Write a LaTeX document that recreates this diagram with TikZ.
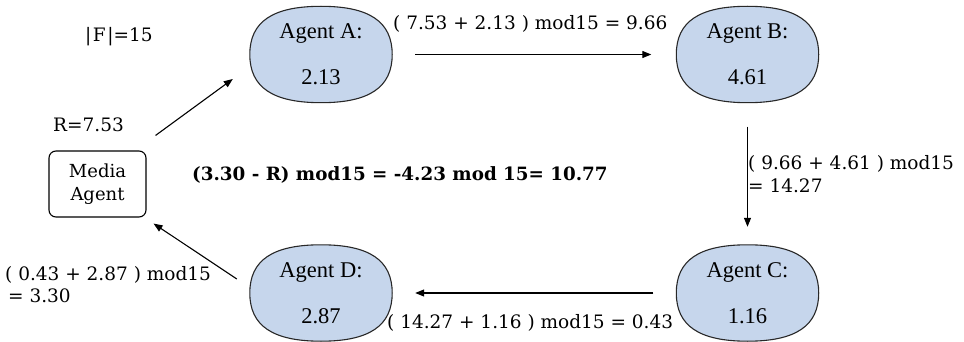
\documentclass[tikz,border=0pt]{standalone}
\usepackage{fontspec}
\setmainfont{DejaVu Serif}
\newfontfamily\nodefont{Liberation Serif}
\usetikzlibrary{arrows.meta,calc,backgrounds}
\definecolor{agentfill}{RGB}{198,214,236}
\definecolor{edgegray}{RGB}{40,40,40}
\tikzset{
  agent/.style={minimum width=142pt, minimum height=96pt, inner sep=0pt, align=center,
    font=\nodefont\fontsize{22.5}{46}\selectfont},
  agentline/.style={draw=edgegray, line width=1.1pt, fill=agentfill},
  media/.style={draw=black, line width=1.1pt, rounded corners=7pt,
    minimum width=97pt, minimum height=66pt, inner sep=0pt, align=center,
    font=\fontsize{18}{23}\selectfont},
  lbl/.style={inner sep=0pt, anchor=base west, align=left, font=\fontsize{18.5}{22}\selectfont},
  arr/.style={-{Triangle[length=9pt,width=7pt]}, line width=1.1pt, black},
}
\newcommand\agentoutline[1]{%
  \draw[agentline] (#1.north)
    .. controls ($(#1.north)!0.68!(#1.north east)$) and ($(#1.east)!0.68!(#1.north east)$) .. (#1.east)
    .. controls ($(#1.east)!0.68!(#1.south east)$) and ($(#1.south)!0.68!(#1.south east)$) .. (#1.south)
    .. controls ($(#1.south)!0.68!(#1.south west)$) and ($(#1.west)!0.68!(#1.south west)$) .. (#1.west)
    .. controls ($(#1.west)!0.68!(#1.north west)$) and ($(#1.north)!0.68!(#1.north west)$) .. (#1.north)
    -- cycle;}
\begin{document}
\begin{tikzpicture}[x=1pt,y=-1pt]
\useasboundingbox (0,0) rectangle (964,342);
\node[agent] (A) at (321,54.5) {Agent A:\\2.13};
\node[agent] (B) at (747.5,54.5) {Agent B:\\4.61};
\node[agent] (C) at (747.5,293) {Agent C:\\1.16};
\node[agent] (D) at (321,293) {Agent D:\\2.87};
\begin{scope}[on background layer]
\agentoutline{A}
\agentoutline{B}
\agentoutline{C}
\agentoutline{D}
\end{scope}
\node[media] (M) at (97.5,184) {Media\\Agent};

\node[lbl] (F) at (85,42) {|\kern1.5pt F\kern1.5pt|=15};
\node[lbl] (R) at (53,132) {R=7.53};
\node[lbl] (lab) at (393,30) {( 7.53 + 2.13 ) mod15 = 9.66};
\node[lbl] (lbc) at (748,192) {( 9.66 + 4.61 ) mod15\\= 14.27};
\node[lbl] (lcd) at (387,328) {( 14.27 + 1.16 ) mod15 = 0.43};
\node[lbl] (ldm) at (5,302) {( 0.43 + 2.87 ) mod15\\\hspace*{3pt}= 3.30};
\node[lbl, font=\bfseries\fontsize{18.3}{22}\selectfont] (res) at (192,180) {(3.30 - R) mod15 = -4.23 mod 15= 10.77};

\draw[arr, shorten <=23pt, shorten >=25pt] (A.east) -- (B.west);
\draw[arr, shorten <=24pt, shorten >=18pt] (B.south) -- (C.north);
\draw[arr, shorten <=23pt, shorten >=23pt] (C.west) -- (D.east);
\draw[arr] ($(M.north east)+(9,-15)$) -- ($(A.west)+(-17,24.5)$);
\draw[arr] ($(D.west)+(-13,-14)$) -- ($(M.south east)+(7,6)$);
\end{tikzpicture}
\end{document}
